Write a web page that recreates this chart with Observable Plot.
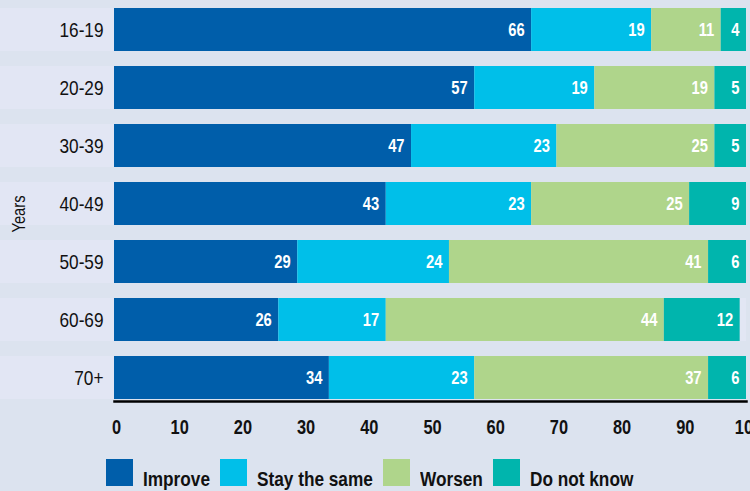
<!DOCTYPE html>
<html><head><meta charset="utf-8">
<script src="https://cdn.jsdelivr.net/npm/d3@7"></script>
<script src="https://cdn.jsdelivr.net/npm/@observablehq/plot@0.6"></script>
<style>
html,body{margin:0;padding:0;background:#dce3ef;width:750px;height:491px;overflow:hidden}
#chart,.legend{font-family:"Liberation Sans",Arial,sans-serif;}
#chart svg{display:block}
.legend{height:41px;display:flex;padding-left:106px;padding-top:9px;box-sizing:border-box;gap:10px}
.item{display:flex;align-items:flex-start;gap:10px}
.sw{width:27px;height:27px;flex:none}
.lab{display:inline-block;font-weight:bold;font-size:21px;line-height:27px;position:relative;top:6px;color:#111;white-space:nowrap;transform:scaleX(0.82);transform-origin:left center}
</style></head>
<body><div id="chart"></div><div class="legend" id="legend"></div>
<script>
const ages = ["16-19","20-29","30-39","40-49","50-59","60-69","70+"];
const categories = ["Improve","Stay the same","Worsen","Do not know"];
const improve  = [66,57,47,43,29,26,34];
const stay     = [19,19,23,23,24,17,23];
const worsen   = [11,19,25,25,41,44,37];
const dontKnow = [4,5,5,9,6,12,6];
const colors = ["#005eaa","#00bfe9","#afd58b","#00b5ad"];
const xTicks = [0,10,20,30,40,50,60,70,80,90,100];
const FONT = '"Liberation Sans",Arial,sans-serif';
const NARROW = 0.82;

const seriesVals = [improve, stay, worsen, dontKnow];
const data = [];
ages.forEach((a, i) => categories.forEach((c, k) => data.push({age: a, cat: c, value: seriesVals[k][i]})));

const plot = Plot.plot({
  width: 750, height: 450,
  marginLeft: 114, marginRight: 4, marginTop: 6, marginBottom: 49,
  style: {background: "transparent", fontFamily: FONT, color: "#111"},
  x: {domain: [0, 100]},
  y: {domain: ages, paddingInner: 15/58, paddingOuter: 2/58},
  color: {domain: categories, range: colors},
  marks: [
    Plot.barX(ages, {x1: 0, x2: 100, y: d => d, fill: "#e2e6f4", insetLeft: -114}),
    Plot.barX(data, {x: "value", y: "age", fill: "cat"}),
    Plot.text(data, Plot.stackX2({x: "value", y: "age", z: "cat", text: d => String(d.value),
      textAnchor: "end", dx: -7, fill: "white", fontWeight: "bold", fontSize: 18})),
    Plot.frame({anchor: "bottom", stroke: "#000", strokeWidth: 2.5}),
    Plot.axisX({ticks: xTicks, tickSize: 0, tickPadding: 18, fontSize: 20, fontWeight: "bold", label: null, fill: "#111", dx: 2}),
    Plot.axisY({tickSize: 0, tickPadding: 11, fontSize: 21, label: null, fill: "#111"}),
    Plot.text(["Years"], {text: d => d, frameAnchor: "left", textAnchor: "middle", dx: -95, dy: 10, rotate: -90, fontSize: 18, fill: "#111"})
  ]
});
// condense glyphs horizontally to mimic a narrow typeface
plot.querySelectorAll("text").forEach(t => {
  const tr = t.getAttribute("transform");
  if (tr) t.setAttribute("transform", tr + ` scale(${NARROW},1)`);
});
document.getElementById("chart").appendChild(plot);

const leg = document.getElementById("legend");
categories.forEach((c, i) => {
  const it = document.createElement("div"); it.className = "item";
  const sw = document.createElement("div"); sw.className = "sw"; sw.style.background = colors[i];
  const lb = document.createElement("span"); lb.className = "lab"; lb.textContent = c;
  it.appendChild(sw); it.appendChild(lb); leg.appendChild(it);
  lb.style.marginRight = (-(1 - NARROW) * lb.offsetWidth) + "px";
});
</script></body></html>
